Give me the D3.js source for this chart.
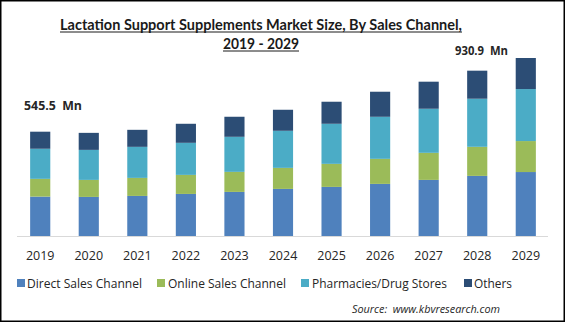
<!DOCTYPE html>
<html>
<head>
<meta charset="utf-8">
<script src="https://cdn.jsdelivr.net/npm/d3@7"></script>
<style>
  html, body { margin: 0; padding: 0; background: #fff; }
  svg { display: block; }
</style>
</head>
<body>
<svg id="chart" width="565" height="322"></svg>
<script>
// Market size (USD Mn) by sales channel, 2019 - 2029
const years = ["2019","2020","2021","2022","2023","2024","2025","2026","2027","2028","2029"];
const directSales   = [206.1, 204.4, 209.6, 220.0, 230.6, 246.3, 256.8, 272.5, 293.4, 314.4, 334.5];
const onlineSales   = [ 92.8,  89.0,  94.3,  99.6, 104.8, 110.0, 120.5, 131.0, 141.5, 152.0, 162.0];
const pharmacies    = [157.4, 157.0, 162.4, 167.7, 183.4, 193.9, 209.6, 220.0, 230.6, 251.5, 272.0];
const others        = [ 89.2,  89.0,  89.0,  99.6, 104.8, 110.0, 115.3, 131.0, 141.5, 146.7, 162.4];
const seriesNames   = ["Direct Sales Channel", "Online Sales Channel", "Pharmacies/Drug Stores", "Others"];
const seriesColors  = ["#4f81bd", "#9bbb59", "#4bacc6", "#2c4d75"];
const startLabel = "545.5  Mn";
const endLabel   = "930.9  Mn";
const titleLines = ["Lactation Support Supplements Market Size, By Sales Channel,", "2019 - 2029"];
const sourceText = "Source:  www.kbvresearch.com";

const svg = d3.select("#chart");
const font = "'Open Sans', 'Liberation Sans', sans-serif";

// Frame
svg.append("rect")
  .attr("x", 0.75).attr("y", 0.75)
  .attr("width", 563.5).attr("height", 320.5)
  .attr("fill", "#fff").attr("stroke", "#000").attr("stroke-width", 1.5);

const keys = ["direct", "online", "pharm", "others"];
const rows = years.map((y, i) => ({
  year: y, direct: directSales[i], online: onlineSales[i], pharm: pharmacies[i], others: others[i]
}));
const stacked = d3.stack().keys(keys)(rows);

const x = d3.scaleBand().domain(years).range([18, 548]).paddingInner(0.585).paddingOuter(0.25);
const total2029 = d3.sum(keys, k => rows[rows.length - 1][k]);
const y = d3.scaleLinear().domain([0, total2029]).range([236, 58]);

// Bars
svg.append("g").selectAll("g")
  .data(stacked)
  .join("g")
  .attr("fill", (d, i) => seriesColors[i])
  .selectAll("rect")
  .data(d => d)
  .join("rect")
  .attr("x", d => x(d.data.year))
  .attr("width", x.bandwidth())
  .attr("y", d => y(d[1]))
  .attr("height", d => y(d[0]) - y(d[1]));

// Category axis
const xAxis = svg.append("g")
  .attr("transform", `translate(0,${y(0)})`)
  .call(d3.axisBottom(x).tickSize(0).tickPadding(15));
xAxis.select(".domain").attr("stroke", "#d9d9d9").attr("stroke-width", 1.2)
  .attr("d", "M17,0.5H548");
xAxis.selectAll("text")
  .attr("font-family", font).attr("font-size", 12.5).attr("fill", "#262626");

// Title
const title = svg.append("g").attr("font-family", "Lato, 'Open Sans', sans-serif")
  .attr("font-weight", "bold").attr("fill", "#1a1a1a");
title.append("text").attr("x", 261).attr("y", 29.5).attr("text-anchor", "middle")
  .attr("font-size", 16).attr("textLength", 402).attr("lengthAdjust", "spacingAndGlyphs")
  .text(titleLines[0]);
title.append("text").attr("x", 261).attr("y", 48.5).attr("text-anchor", "middle")
  .attr("font-size", 16).attr("textLength", 76).attr("lengthAdjust", "spacingAndGlyphs")
  .text(titleLines[1]);
title.append("line").attr("x1", 60).attr("x2", 462).attr("y1", 32).attr("y2", 32)
  .attr("stroke", "#1a1a1a").attr("stroke-width", 1);
title.append("line").attr("x1", 223).attr("x2", 299).attr("y1", 51).attr("y2", 51)
  .attr("stroke", "#1a1a1a").attr("stroke-width", 1);

// Value callouts for first and last year
const callout = svg.append("g").attr("font-family", font).attr("font-weight", "bold")
  .attr("font-size", 12.5).attr("fill", "#262626");
callout.append("text").attr("x", 24).attr("y", 110)
  .attr("textLength", 58).attr("lengthAdjust", "spacingAndGlyphs")
  .style("white-space", "pre").text(startLabel);
callout.append("text").attr("x", 455).attr("y", 54.5)
  .attr("textLength", 53).attr("lengthAdjust", "spacingAndGlyphs")
  .style("white-space", "pre").text(endLabel);

// Legend
const legendPos = [[17, 27, 115], [157, 168, 118], [301, 312, 135], [464, 474, 38]];
const legend = svg.append("g").attr("font-family", font).attr("font-size", 13).attr("fill", "#262626");
seriesNames.forEach((name, i) => {
  const [sx, tx, tw] = legendPos[i];
  legend.append("rect").attr("x", sx).attr("y", 279).attr("width", 8).attr("height", 8)
    .attr("fill", seriesColors[i]);
  legend.append("text").attr("x", tx).attr("y", 288)
    .attr("textLength", tw).attr("lengthAdjust", "spacingAndGlyphs").text(name);
});

// Source note
svg.append("text").attr("x", 352).attr("y", 313)
  .attr("font-family", font).attr("font-style", "italic").attr("font-size", 11.5)
  .attr("fill", "#262626").attr("textLength", 148).attr("lengthAdjust", "spacingAndGlyphs")
  .style("white-space", "pre").text(sourceText);
</script>
</body>
</html>
